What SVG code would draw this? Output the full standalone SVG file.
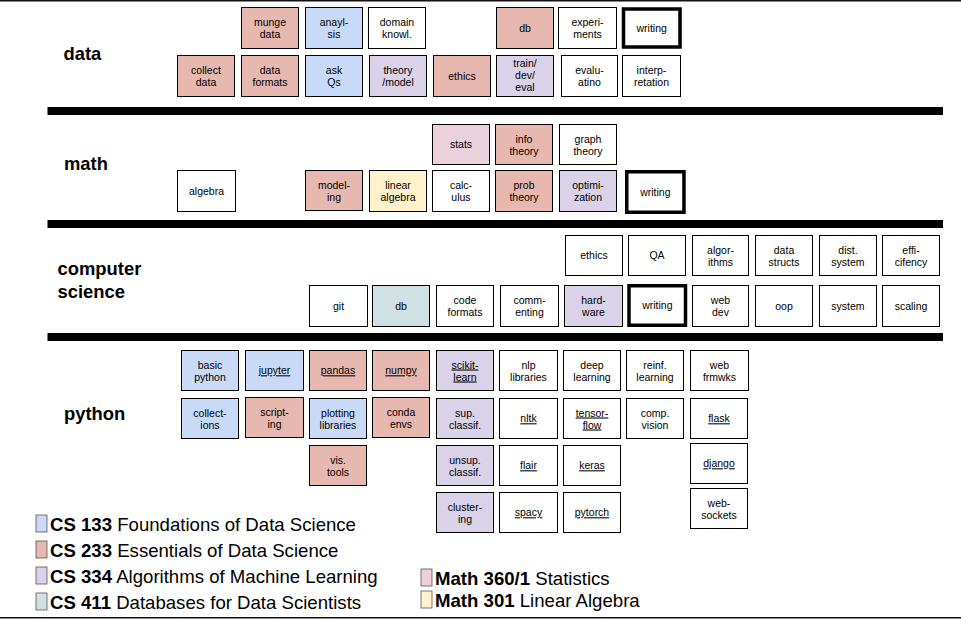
<svg xmlns="http://www.w3.org/2000/svg" width="961" height="619" viewBox="0 0 961 619">
<style>
text{font-family:"Liberation Sans",Arial,sans-serif;fill:#000}
.b rect{stroke:#000;stroke-width:1}
.t{font-size:10.5px;text-anchor:middle}
.u{text-decoration:underline}
.h{font-size:18.4px;font-weight:bold}
.lg{font-size:18.6px}
.lg .k{font-weight:bold}
.w{fill:#fff}
.sal{fill:#e6b8af}
.blu{fill:#c9daf8}
.lav{fill:#d9d2e9}
.tea{fill:#d0e0e3}
.pnk{fill:#ead1dc}
.yel{fill:#fff2cc}
.thick rect{stroke-width:3.5;fill:#fff}
.bar{fill:#000}
.sw{stroke:#555;stroke-width:0.8}
</style>
<rect width="961" height="619" fill="#fff"/>
<rect x="0" y="0" width="961" height="1.5" fill="#111"/>
<rect x="0" y="617" width="961" height="1.5" fill="#111"/>
<g id="separators">
<rect class="bar" x="47.5" y="107" width="895.5" height="8"/>
<rect class="bar" x="47.5" y="220" width="895.5" height="8"/>
<rect class="bar" x="47.5" y="333" width="895.5" height="8"/>
</g>
<g id="section-labels">
<text class="h" x="63.5" y="60">data</text>
<text class="h" x="64" y="170">math</text>
<text class="h" x="57.5" y="275">computer</text>
<text class="h" x="57.5" y="298">science</text>
<text class="h" x="64" y="420">python</text>
</g>
<g id="connectors"></g>
<!-- data top -->
<g id="d-munge" class="b"><rect class="sal" x="241.5" y="7.5" width="57" height="41"/><text class="t" x="270" y="26">munge</text><text class="t" x="270" y="38">data</text></g>
<g id="d-analysis" class="b"><rect class="blu" x="305.5" y="7.5" width="57" height="41"/><text class="t" x="334" y="26">anayl-</text><text class="t" x="334" y="38">sis</text></g>
<g id="d-domain" class="b"><rect class="w" x="368.5" y="7.5" width="57" height="41"/><text class="t" x="397" y="26">domain</text><text class="t" x="397" y="38">knowl.</text></g>
<g id="d-db" class="b"><rect class="sal" x="496.5" y="7.5" width="57" height="41"/><text class="t" x="525" y="32">db</text></g>
<g id="d-experiments" class="b"><rect class="w" x="558.5" y="7.5" width="58" height="41"/><text class="t" x="587.5" y="26">experi-</text><text class="t" x="587.5" y="38">ments</text></g>
<g id="d-writing" class="b thick"><rect x="623.5" y="9" width="56.5" height="38"/><text class="t" x="651.7" y="32">writing</text></g>
<!-- data bottom -->
<g id="d-collect" class="b"><rect class="sal" x="177.5" y="55.5" width="57" height="41"/><text class="t" x="206" y="74">collect</text><text class="t" x="206" y="86">data</text></g>
<g id="d-formats" class="b"><rect class="sal" x="241.5" y="55.5" width="57" height="41"/><text class="t" x="270" y="74">data</text><text class="t" x="270" y="86">formats</text></g>
<g id="d-askqs" class="b"><rect class="blu" x="305.5" y="55.5" width="57" height="41"/><text class="t" x="334" y="74">ask</text><text class="t" x="334" y="86">Qs</text></g>
<g id="d-theory" class="b"><rect class="lav" x="369.5" y="55.5" width="57" height="41"/><text class="t" x="398" y="74">theory</text><text class="t" x="398" y="86">/model</text></g>
<g id="d-ethics" class="b"><rect class="sal" x="433.5" y="55.5" width="57" height="41"/><text class="t" x="462" y="80">ethics</text></g>
<g id="d-train" class="b"><rect class="lav" x="496.5" y="55.5" width="57" height="41"/><text class="t" x="525" y="67">train/</text><text class="t" x="525" y="79">dev/</text><text class="t" x="525" y="91">eval</text></g>
<g id="d-evaluation" class="b"><rect class="w" x="561.5" y="55.5" width="56" height="41"/><text class="t" x="589.5" y="74">evalu-</text><text class="t" x="589.5" y="86">atino</text></g>
<g id="d-interp" class="b"><rect class="w" x="622.5" y="55.5" width="58" height="41"/><text class="t" x="651.5" y="74">interp-</text><text class="t" x="651.5" y="86">retation</text></g>
<!-- math top -->
<g id="m-stats" class="b"><rect class="pnk" x="432.5" y="124.5" width="57" height="40"/><text class="t" x="461" y="148.3">stats</text></g>
<g id="m-info" class="b"><rect class="sal" x="495.5" y="124.5" width="57" height="40"/><text class="t" x="524" y="142.5">info</text><text class="t" x="524" y="154.5">theory</text></g>
<g id="m-graph" class="b"><rect class="w" x="559.5" y="124.5" width="57" height="40"/><text class="t" x="588" y="142.5">graph</text><text class="t" x="588" y="154.5">theory</text></g>
<!-- math bottom -->
<g id="m-algebra" class="b"><rect class="w" x="177.5" y="170.5" width="58" height="41"/><text class="t" x="206.5" y="194.8">algebra</text></g>
<g id="m-modeling" class="b"><rect class="sal" x="305.5" y="170.5" width="57" height="40"/><text class="t" x="334" y="188.5">model-</text><text class="t" x="334" y="200.5">ing</text></g>
<g id="m-linalg" class="b"><rect class="yel" x="369.5" y="170.5" width="57" height="41"/><text class="t" x="398" y="189">linear</text><text class="t" x="398" y="201">algebra</text></g>
<g id="m-calculus" class="b"><rect class="w" x="432.5" y="170.5" width="57" height="41"/><text class="t" x="461" y="189">calc-</text><text class="t" x="461" y="201">ulus</text></g>
<g id="m-prob" class="b"><rect class="sal" x="495.5" y="170.5" width="57" height="41"/><text class="t" x="524" y="189">prob</text><text class="t" x="524" y="201">theory</text></g>
<g id="m-optim" class="b"><rect class="lav" x="559.5" y="170.5" width="57" height="41"/><text class="t" x="588" y="189">optimi-</text><text class="t" x="588" y="201">zation</text></g>
<g id="m-writing" class="b thick"><rect x="626.75" y="171.75" width="57.2" height="40.5"/><text class="t" x="655.3" y="195.8">writing</text></g>
<!-- cs top -->
<g id="c-ethics" class="b"><rect class="w" x="565.5" y="235.5" width="57" height="40"/><text class="t" x="594" y="259.3">ethics</text></g>
<g id="c-qa" class="b"><rect class="w" x="628.5" y="235.5" width="57" height="40"/><text class="t" x="657" y="259.3">QA</text></g>
<g id="c-algo" class="b"><rect class="w" x="692.5" y="235.5" width="56" height="40"/><text class="t" x="720.5" y="253.5">algor-</text><text class="t" x="720.5" y="265.5">ithms</text></g>
<g id="c-ds" class="b"><rect class="w" x="755.5" y="235.5" width="57" height="40"/><text class="t" x="784" y="253.5">data</text><text class="t" x="784" y="265.5">structs</text></g>
<g id="c-dist" class="b"><rect class="w" x="819.5" y="235.5" width="57" height="40"/><text class="t" x="848" y="253.5">dist.</text><text class="t" x="848" y="265.5">system</text></g>
<g id="c-effi" class="b"><rect class="w" x="882.5" y="235.5" width="57" height="40"/><text class="t" x="911" y="253.5">effi-</text><text class="t" x="911" y="265.5">cifency</text></g>
<!-- cs bottom -->
<g id="c-git" class="b"><rect class="w" x="309.5" y="285.5" width="58" height="41"/><text class="t" x="338.5" y="309.8">git</text></g>
<g id="c-db" class="b"><rect class="tea" x="372.5" y="285.5" width="57" height="41"/><text class="t" x="401" y="309.8">db</text></g>
<g id="c-code" class="b"><rect class="w" x="436.5" y="285.5" width="57" height="41"/><text class="t" x="465" y="304">code</text><text class="t" x="465" y="316">formats</text></g>
<g id="c-comm" class="b"><rect class="w" x="500.5" y="285.5" width="58" height="41"/><text class="t" x="529.5" y="304">comm-</text><text class="t" x="529.5" y="316">enting</text></g>
<g id="c-hw" class="b"><rect class="lav" x="564.5" y="285.5" width="58" height="41"/><text class="t" x="593.5" y="304">hard-</text><text class="t" x="593.5" y="316">ware</text></g>
<g id="c-writing" class="b thick"><rect x="629" y="285.75" width="56.5" height="39.5"/><text class="t" x="657.3" y="309.3">writing</text></g>
<g id="c-web" class="b"><rect class="w" x="692.5" y="285.5" width="56" height="41"/><text class="t" x="720.5" y="304">web</text><text class="t" x="720.5" y="316">dev</text></g>
<g id="c-oop" class="b"><rect class="w" x="755.5" y="285.5" width="57" height="41"/><text class="t" x="784" y="309.8">oop</text></g>
<g id="c-system" class="b"><rect class="w" x="819.5" y="285.5" width="57" height="41"/><text class="t" x="848" y="309.8">system</text></g>
<g id="c-scaling" class="b"><rect class="w" x="882.5" y="285.5" width="57" height="41"/><text class="t" x="911" y="309.8">scaling</text></g>
<!-- python row 1 -->
<g id="p-basic" class="b"><rect class="blu" x="181.5" y="350.5" width="57" height="40"/><text class="t" x="210" y="368.5">basic</text><text class="t" x="210" y="380.5">python</text></g>
<g id="p-jupyter" class="b"><rect class="blu" x="245.5" y="350.5" width="58" height="40"/><text class="t u" x="274.5" y="374.3">jupyter</text></g>
<g id="p-pandas" class="b"><rect class="sal" x="309.5" y="350.5" width="57" height="40"/><text class="t u" x="338" y="374.3">pandas</text></g>
<g id="p-numpy" class="b"><rect class="sal" x="372.5" y="350.5" width="57" height="40"/><text class="t u" x="401" y="374.3">numpy</text></g>
<g id="p-sklearn" class="b"><rect class="lav" x="436.5" y="350.5" width="57" height="40"/><text class="t u" x="465" y="368.5">scikit-</text><text class="t u" x="465" y="380.5">learn</text></g>
<g id="p-nlp" class="b"><rect class="w" x="499.5" y="350.5" width="58" height="40"/><text class="t" x="528.5" y="368.5">nlp</text><text class="t" x="528.5" y="380.5">libraries</text></g>
<g id="p-deep" class="b"><rect class="w" x="563.5" y="350.5" width="57" height="40"/><text class="t" x="592" y="368.5">deep</text><text class="t" x="592" y="380.5">learning</text></g>
<g id="p-reinf" class="b"><rect class="w" x="626.5" y="350.5" width="57" height="40"/><text class="t" x="655" y="368.5">reinf.</text><text class="t" x="655" y="380.5">learning</text></g>
<g id="p-webfw" class="b"><rect class="w" x="690.5" y="350.5" width="58" height="40"/><text class="t" x="719.5" y="368.5">web</text><text class="t" x="719.5" y="380.5">frmwks</text></g>
<!-- python row 2 -->
<g id="p-coll" class="b"><rect class="blu" x="181.5" y="398.5" width="57" height="40"/><text class="t" x="210" y="416.5">collect-</text><text class="t" x="210" y="428.5">ions</text></g>
<g id="p-script" class="b"><rect class="sal" x="245.5" y="397.5" width="58" height="40"/><text class="t" x="274.5" y="415.5">script-</text><text class="t" x="274.5" y="427.5">ing</text></g>
<g id="p-plot" class="b"><rect class="blu" x="309.5" y="398.5" width="57" height="40"/><text class="t" x="338" y="416.5">plotting</text><text class="t" x="338" y="428.5">libraries</text></g>
<g id="p-conda" class="b"><rect class="sal" x="372.5" y="397.5" width="57" height="40"/><text class="t" x="401" y="415.5">conda</text><text class="t" x="401" y="427.5">envs</text></g>
<g id="p-sup" class="b"><rect class="lav" x="436.5" y="398.5" width="57" height="40"/><text class="t" x="465" y="416.5">sup.</text><text class="t" x="465" y="428.5">classif.</text></g>
<g id="p-nltk" class="b"><rect class="w" x="499.5" y="398.5" width="58" height="40"/><text class="t u" x="528.5" y="422.3">nltk</text></g>
<g id="p-tf" class="b"><rect class="w" x="563.5" y="398.5" width="57" height="40"/><text class="t u" x="592" y="416.5">tensor-</text><text class="t u" x="592" y="428.5">flow</text></g>
<g id="p-cv" class="b"><rect class="w" x="626.5" y="398.5" width="57" height="40"/><text class="t" x="655" y="416.5">comp.</text><text class="t" x="655" y="428.5">vision</text></g>
<g id="p-flask" class="b"><rect class="w" x="690.5" y="398.5" width="57" height="40"/><text class="t u" x="719" y="422.3">flask</text></g>
<!-- python row 3 -->
<g id="p-vis" class="b"><rect class="sal" x="309.5" y="445.5" width="57" height="40"/><text class="t" x="338" y="463.5">vis.</text><text class="t" x="338" y="475.5">tools</text></g>
<g id="p-unsup" class="b"><rect class="lav" x="436.5" y="445.5" width="57" height="40"/><text class="t" x="465" y="463.5">unsup.</text><text class="t" x="465" y="475.5">classif.</text></g>
<g id="p-flair" class="b"><rect class="w" x="499.5" y="445.5" width="58" height="40"/><text class="t u" x="528.5" y="469.3">flair</text></g>
<g id="p-keras" class="b"><rect class="w" x="563.5" y="445.5" width="57" height="40"/><text class="t u" x="592" y="469.3">keras</text></g>
<g id="p-django" class="b"><rect class="w" x="690.5" y="443.5" width="57" height="40"/><text class="t u" x="719" y="467.3">django</text></g>
<!-- python row 4 -->
<g id="p-cluster" class="b"><rect class="lav" x="436.5" y="492.5" width="57" height="40"/><text class="t" x="465" y="510.5">cluster-</text><text class="t" x="465" y="522.5">ing</text></g>
<g id="p-spacy" class="b"><rect class="w" x="499.5" y="492.5" width="58" height="40"/><text class="t u" x="528.5" y="516.3">spacy</text></g>
<g id="p-pytorch" class="b"><rect class="w" x="563.5" y="492.5" width="57" height="40"/><text class="t u" x="592" y="516.3">pytorch</text></g>
<g id="p-websock" class="b"><rect class="w" x="690.5" y="488.5" width="57" height="40"/><text class="t" x="719" y="506.5">web-</text><text class="t" x="719" y="518.5">sockets</text></g>
<!-- legend -->
<g id="legend">
<rect class="sw blu" x="36" y="515" width="11" height="17"/>
<text class="lg" x="50" y="531"><tspan class="k">CS 133</tspan> Foundations of Data Science</text>
<rect class="sw sal" x="36" y="541" width="11" height="17"/>
<text class="lg" x="50" y="557"><tspan class="k">CS 233</tspan> Essentials of Data Science</text>
<rect class="sw lav" x="36" y="567" width="11" height="17"/>
<text class="lg" x="50" y="583"><tspan class="k">CS 334</tspan> Algorithms of Machine Learning</text>
<rect class="sw tea" x="36" y="593" width="11" height="17"/>
<text class="lg" x="50" y="609"><tspan class="k">CS 411</tspan> Databases for Data Scientists</text>
<rect class="sw pnk" x="421" y="569" width="11" height="17"/>
<text class="lg" x="435" y="585"><tspan class="k">Math 360/1</tspan> Statistics</text>
<rect class="sw yel" x="421" y="591" width="11" height="17"/>
<text class="lg" x="435" y="607"><tspan class="k">Math 301</tspan> Linear Algebra</text>
</g>
</svg>
